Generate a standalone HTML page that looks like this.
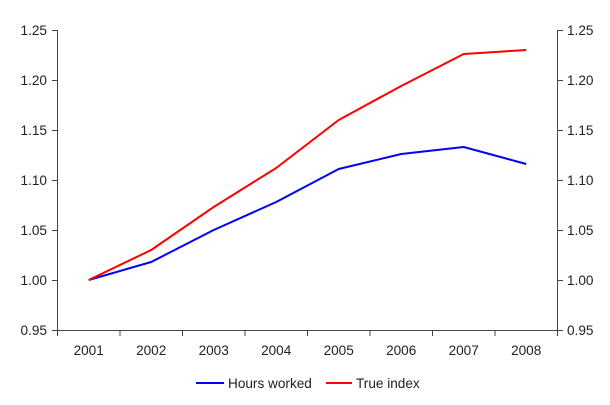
<!DOCTYPE html>
<html><head><style>body{margin:0;background:#fff}</style></head><body>
<svg width="610" height="400" xmlns="http://www.w3.org/2000/svg" font-family="Liberation Sans, sans-serif" font-size="13.6" fill="#222">
<g stroke="#444" stroke-width="1" fill="none">
<path d="M57.5 30.5V330.5H557.5"/>
<path d="M557.5 30.5V330.5"/>
<path d="M52 30.5h6M52 80.5h6M52 130.5h6M52 180.5h6M52 230.5h6M52 280.5h6M52 330.5h6"/>
<path d="M557 30.5h6M557 80.5h6M557 130.5h6M557 180.5h6M557 230.5h6M557 280.5h6M557 330.5h6"/>
<path d="M57.5 330v6M120 330v6M182.5 330v6M245 330v6M307.5 330v6M370 330v6M432.5 330v6M495 330v6M557.5 330v6"/>
</g>
<g text-anchor="end">
<text x="47" y="35">1.25</text><text x="47" y="85">1.20</text><text x="47" y="135">1.15</text><text x="47" y="185">1.10</text><text x="47" y="235">1.05</text><text x="47" y="285">1.00</text><text x="47" y="335">0.95</text>
</g>
<g>
<text x="567" y="35">1.25</text><text x="567" y="85">1.20</text><text x="567" y="135">1.15</text><text x="567" y="185">1.10</text><text x="567" y="235">1.05</text><text x="567" y="285">1.00</text><text x="567" y="335">0.95</text>
</g>
<g text-anchor="middle">
<text x="88.7" y="355">2001</text><text x="151.2" y="355">2002</text><text x="213.7" y="355">2003</text><text x="276.2" y="355">2004</text><text x="338.7" y="355">2005</text><text x="401.2" y="355">2006</text><text x="463.7" y="355">2007</text><text x="526.2" y="355">2008</text>
</g>
<g fill="none" stroke-width="2" stroke-linejoin="round">
<polyline stroke="#0000ff" points="88.7,280 151.2,262 213.7,230 276.2,202 338.7,169 401.2,154 463.7,147 526.2,164"/>
<polyline stroke="#ff0000" points="88.7,280 151.2,250 213.7,207 276.2,168 338.7,120 401.2,86 463.7,54 526.2,50"/>
<line x1="196" y1="383" x2="224" y2="383" stroke="#0000ff"/>
<line x1="326" y1="383" x2="352" y2="383" stroke="#ff0000"/>
</g>
<text x="228" y="388">Hours worked</text>
<text x="356" y="388">True index</text>
</svg>
</body></html>
